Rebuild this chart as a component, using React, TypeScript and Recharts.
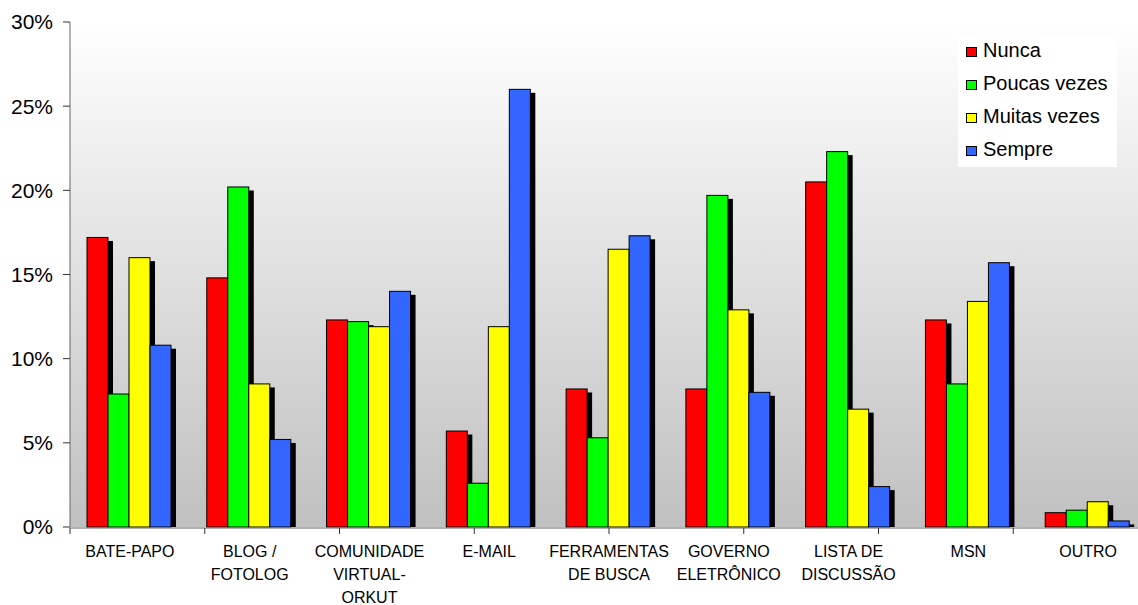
import React from 'react';
import { BarChart, Bar, XAxis, YAxis, CartesianGrid, Legend } from 'recharts';

// Category labels (line breaks mark wrapped labels)
const categories = [
  'BATE-PAPO',
  'BLOG /\nFOTOLOG',
  'COMUNIDADE\nVIRTUAL-\nORKUT',
  'E-MAIL',
  'FERRAMENTAS\nDE BUSCA',
  'GOVERNO\nELETRÔNICO',
  'LISTA DE\nDISCUSSÃO',
  'MSN',
  'OUTRO',
];

// Percentages per frequency answer
const nunca = [17.2, 14.8, 12.3, 5.7, 8.2, 8.2, 20.5, 12.3, 0.85];
const poucasVezes = [7.9, 20.2, 12.2, 2.6, 5.3, 19.7, 22.3, 8.5, 1.0];
const muitasVezes = [16.0, 8.5, 11.9, 11.9, 16.5, 12.9, 7.0, 13.4, 1.5];
const sempre = [10.8, 5.2, 14.0, 26.0, 17.3, 8.0, 2.4, 15.7, 0.36];

const yTicks = [0, 5, 10, 15, 20, 25, 30];
const edgeTicks = [0, 1, 2, 3, 4, 5, 6, 7, 8, 9];

const seriesInfo = [
  { key: 'nunca', name: 'Nunca', color: '#ff0000' },
  { key: 'poucas', name: 'Poucas vezes', color: '#00ff00' },
  { key: 'muitas', name: 'Muitas vezes', color: '#ffff00' },
  { key: 'sempre', name: 'Sempre', color: '#3366ff' },
];

const data = categories.map((c, i) => ({
  name: c,
  nunca: nunca[i],
  poucas: poucasVezes[i],
  muitas: muitasVezes[i],
  sempre: sempre[i],
}));

const FONT = '"Liberation Sans", Arial, sans-serif';

// Bar with a solid black drop shadow to the lower right
const ShadowBar = (props: any) => {
  const { x, y, width, height, fill } = props;
  if (width == null || height == null || height <= 0) return null;
  const dx = 5;
  const dy = 3.5;
  return (
    <g>
      <rect x={x + dx} y={y + dy} width={width} height={Math.max(0, height - dy)} fill="#000" />
      <rect x={x} y={y} width={width} height={height} fill={fill} stroke="#000" strokeWidth={1} />
    </g>
  );
};

const CategoryTick = (props: any) => {
  const { x, y, payload } = props;
  const lines = String(payload.value).split('\n');
  return (
    <g>
      {lines.map((ln, i) => (
        <text
          key={i}
          x={x}
          y={y + 29.5 + i * 23}
          textAnchor="middle"
          fontSize={16}
          fontFamily={FONT}
          fill="#000"
        >
          {ln}
        </text>
      ))}
    </g>
  );
};

const LegendBox = (props: any) => {
  const payload = [...(props.payload || [])].sort(
    (a: any, b: any) =>
      seriesInfo.findIndex((s) => s.name === a.value) - seriesInfo.findIndex((s) => s.name === b.value)
  );
  return (
    <div
      style={{
        background: '#ffffff',
        width: 159,
        height: 130,
        boxSizing: 'border-box',
        paddingLeft: 8,
        fontFamily: FONT,
        fontSize: 20,
        color: '#000',
      }}
    >
      {payload.map((entry: any, i: number) => (
        <div
          key={i}
          style={{ height: 26, marginBottom: 7, display: 'flex', alignItems: 'center', whiteSpace: 'nowrap' }}
        >
          <span
            style={{
              display: 'inline-block',
              width: 9,
              height: 8,
              background: entry.color,
              border: '1px solid #000',
              marginRight: 6,
              marginTop: 4,
            }}
          />
          <span>{entry.value}</span>
        </div>
      ))}
    </div>
  );
};

export default function App() {
  return (
    <div
      style={{
        position: 'fixed',
        left: 0,
        top: 0,
        width: 1138,
        height: 605,
        overflow: 'hidden',
        background: '#ffffff',
      }}
    >
      <BarChart
        width={1160}
        height={605}
        data={data}
        margin={{ top: 22, right: 12, left: 0, bottom: 76 }}
        barCategoryGap={17}
        barGap={0}
      >
        <defs>
          <linearGradient id="plotBg" x1="0" y1="0" x2="0" y2="1">
            <stop offset="0%" stopColor="#ffffff" />
            <stop offset="100%" stopColor="#c0c0c0" />
          </linearGradient>
        </defs>
        <CartesianGrid
          xAxisId="cat"
          yAxisId="val"
          horizontal={false}
          vertical={false}
          fill="url(#plotBg)"
          stroke="none"
        />
        <XAxis
          xAxisId="cat"
          dataKey="name"
          height={1}
          interval={0}
          axisLine={false}
          tickLine={false}
          tickSize={0}
          tickMargin={0}
          tick={<CategoryTick />}
        />
        {/* boundary tick marks between categories */}
        <XAxis
          xAxisId="edges"
          type="number"
          domain={[0, 9]}
          ticks={edgeTicks}
          interval={0}
          allowDataOverflow
          height={1}
          tick={() => <g />}
          tickSize={6}
          axisLine={{ stroke: '#666' }}
          tickLine={{ stroke: '#333' }}
        />
        <YAxis
          yAxisId="val"
          width={70}
          domain={[0, 30]}
          ticks={yTicks}
          interval={0}
          tickFormatter={(v: number) => `${v}%`}
          tickSize={7}
          tickMargin={10}
          axisLine={{ stroke: '#666' }}
          tickLine={{ stroke: '#333' }}
          tick={{ fontSize: 21, fontFamily: FONT, fill: '#000' }}
        />
        <Legend
          layout="vertical"
          align="center"
          verticalAlign="middle"
          wrapperStyle={{ left: 958, top: 37, width: 159 }}
          content={<LegendBox />}
        />
        {seriesInfo.map((s) => (
          <Bar
            key={s.key}
            xAxisId="cat"
            yAxisId="val"
            dataKey={s.key}
            name={s.name}
            fill={s.color}
            shape={<ShadowBar />}
            isAnimationActive={false}
          />
        ))}
      </BarChart>
    </div>
  );
}
